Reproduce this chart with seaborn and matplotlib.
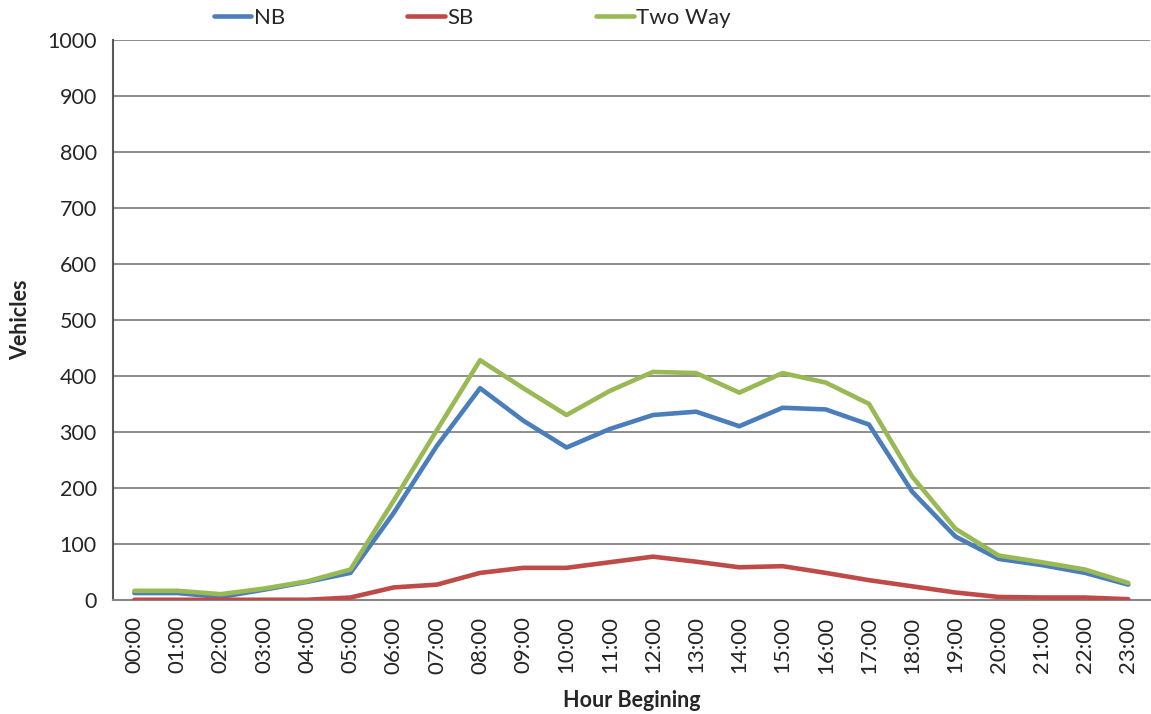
import numpy as np
import pandas as pd
import seaborn as sns
import matplotlib.pyplot as plt
from matplotlib.ticker import MultipleLocator, FixedLocator

hours = [f'{h:02d}:00' for h in range(24)]
nb = [12, 12, 5, 18, 32, 48, 155, 275, 378, 320, 272, 305,
      330, 336, 310, 343, 340, 313, 193, 113, 73, 62, 48, 27]
sb = [0, 0, 0, 0, 0, 4, 22, 27, 48, 57, 57, 67,
      77, 68, 58, 60, 48, 35, 24, 13, 5, 4, 4, 1]
two_way = [16, 16, 10, 20, 33, 54, 177, 303, 428, 378, 330, 373,
           407, 405, 370, 405, 388, 350, 220, 127, 79, 67, 54, 30]

df = pd.DataFrame({'Hour': hours, 'NB': nb, 'SB': sb, 'Two Way': two_way})
long = df.melt(id_vars='Hour', var_name='Direction', value_name='Vehicles')
long['x'] = long['Hour'].map({h: i for i, h in enumerate(hours)})

sns.set_style('white')
plt.rcParams['font.family'] = ['Lato', 'DejaVu Sans']

fig = plt.figure(figsize=(11.51, 7.14), dpi=100)
ax = fig.add_axes([0.098, 0.16, 0.901, 0.784])

palette = {'NB': '#4A7EBB', 'SB': '#BE4B48', 'Two Way': '#98B954'}
sns.lineplot(data=long, x='x', y='Vehicles', hue='Direction', palette=palette,
             linewidth=3.3, ax=ax, zorder=3)

ax.set_xlim(-0.5, 23.5)
ax.set_ylim(0, 1000)
ax.yaxis.set_major_locator(MultipleLocator(100))
ax.grid(axis='y', color='#868686', linewidth=1.3)
ax.set_axisbelow(True)

ax.set_xticks(range(24))
ax.set_xticklabels(hours, rotation=90)
ax.xaxis.set_minor_locator(FixedLocator(np.arange(-0.5, 24, 1)))
ax.tick_params(axis='x', which='major', length=0, pad=12, labelsize=16)
ax.tick_params(axis='x', which='minor', length=8, width=1.3, color='#868686', direction='out')
ax.tick_params(axis='y', length=8, width=1.3, color='#595959', direction='out', labelsize=15.5)

for s in ['top', 'right']:
    ax.spines[s].set_visible(False)
ax.spines['left'].set_color('#595959')
ax.spines['left'].set_linewidth(1.5)
ax.spines['bottom'].set_color('#868686')
ax.spines['bottom'].set_linewidth(1.5)

ax.set_xlabel('Hour Begining', fontweight='bold', fontsize=15.5, labelpad=12)
ax.set_ylabel('Vehicles', fontweight='bold', fontsize=15.5, labelpad=12)

handles, labels = ax.get_legend_handles_labels()
ax.legend(handles, labels, loc='center left', bbox_to_anchor=(0.078, 1.04),
          ncol=3, frameon=False, fontsize=16, handlelength=1.7,
          handletextpad=0.1, columnspacing=5.5)

fig.savefig('out.png', dpi=100)
